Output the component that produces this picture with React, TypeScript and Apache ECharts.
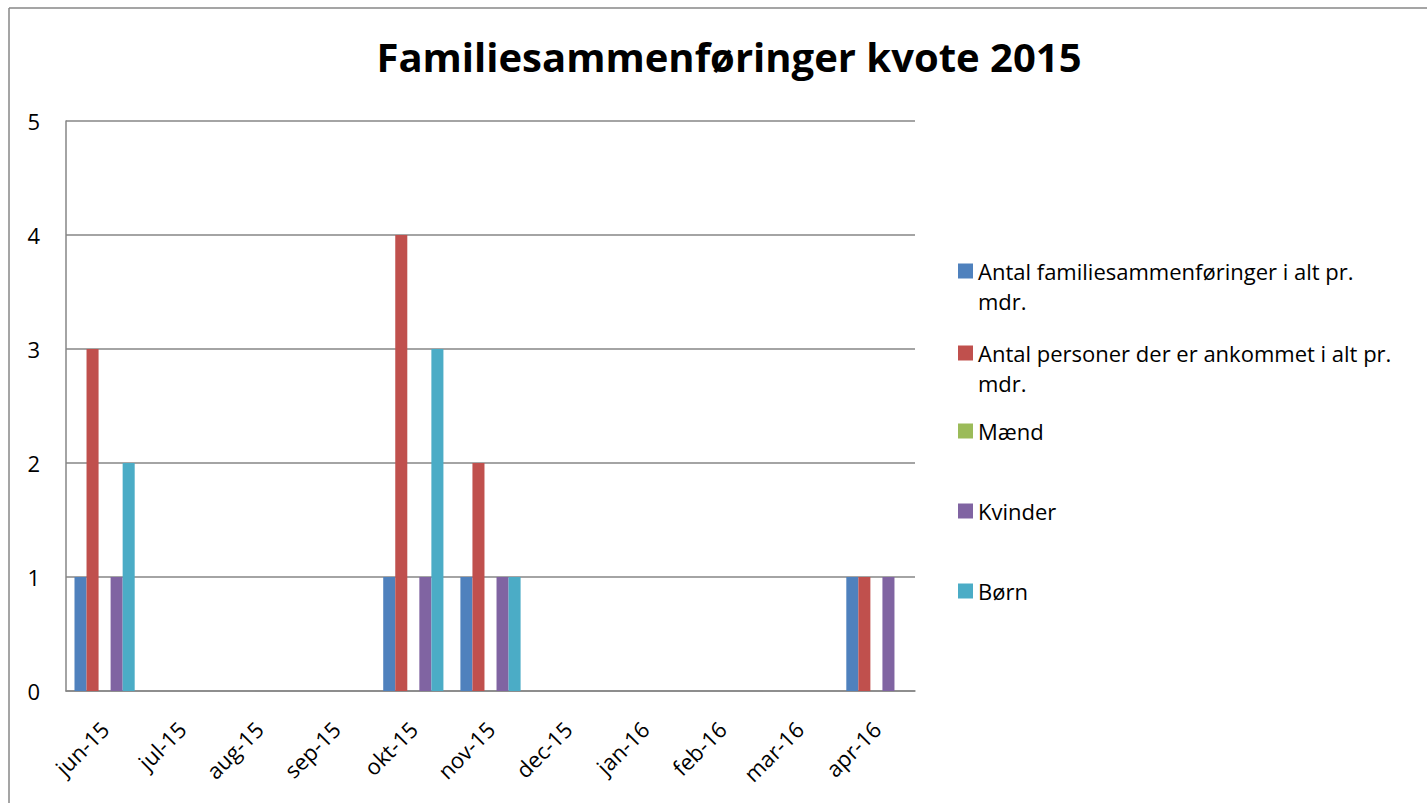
import React, { useEffect, useRef } from "react";
import * as echarts from "echarts";

const categories = ["jun-15", "jul-15", "aug-15", "sep-15", "okt-15", "nov-15", "dec-15", "jan-16", "feb-16", "mar-16", "apr-16"];
const seriesNames = [
  "Antal familiesammenføringer i alt pr. mdr.",
  "Antal personer der er ankommet i alt pr. mdr.",
  "Mænd",
  "Kvinder",
  "Børn",
];
const familieValues = [1, 0, 0, 0, 1, 1, 0, 0, 0, 0, 1];
const personerValues = [3, 0, 0, 0, 4, 2, 0, 0, 0, 0, 1];
const maendValues = [0, 0, 0, 0, 0, 0, 0, 0, 0, 0, 0];
const kvinderValues = [1, 0, 0, 0, 1, 1, 0, 0, 0, 0, 1];
const bornValues = [2, 0, 0, 0, 3, 1, 0, 0, 0, 0, 0];
const colors = ["#4F81BD", "#C0504D", "#9BBB59", "#8064A2", "#4BACC6"];
const yTicks = [0, 1, 2, 3, 4, 5];

const FONT = "'Open Sans', sans-serif";

export default function App() {
  const ref = useRef<HTMLDivElement>(null);
  useEffect(() => {
    document.body.style.margin = "0";
    document.body.style.overflow = "hidden";
    const chart = echarts.init(ref.current!, null, { renderer: "svg" });
    const values = [familieValues, personerValues, maendValues, kvinderValues, bornValues];
    const iconCenters = [275, 357, 435, 515, 595];
    const twoLine = [true, true, false, false, false];
    chart.setOption({
      animation: false,
      backgroundColor: "#ffffff",
      title: {
        text: "Familiesammenføringer kvote 2015",
        left: 724,
        textAlign: "center",
        top: 31,
        textStyle: { fontFamily: FONT, fontWeight: "bold", fontSize: 40, color: "#000" },
      },
      legend: seriesNames.map((n, i) => ({
        data: [n],
        left: 958,
        top: iconCenters[i] - (twoLine[i] ? 45 : 15),
        padding: 0,
        itemWidth: 15,
        itemHeight: 15,
        icon: "rect",
        selectedMode: false,
        formatter: (name: string) => {
          if (name.endsWith(" pr. mdr.")) {
            const first = name.slice(0, name.length - 5);
            return "{e| }\n{a|" + first + "}\n{a|mdr.}";
          }
          return "{a|" + name + "}";
        },
        textStyle: {
          fontFamily: FONT,
          fontSize: 22,
          color: "#000",
          rich: {
            a: { fontFamily: FONT, fontSize: 22, color: "#000", lineHeight: 30 },
            e: { fontFamily: FONT, fontSize: 22, lineHeight: 30 },
          },
        },
      })),
      grid: { left: 66, top: 121, width: 849, height: 570, containLabel: false },
      xAxis: {
        type: "category",
        data: categories,
        axisLine: { show: true, lineStyle: { color: "#868686", width: 1.5 } },
        axisTick: { show: false },
        axisLabel: { rotate: 45, margin: 34, fontFamily: FONT, fontSize: 22, color: "#000", interval: 0 },
      },
      yAxis: {
        type: "value",
        min: 0,
        max: 5,
        interval: 1,
        axisLine: { show: true, lineStyle: { color: "#868686", width: 1.5 } },
        axisTick: { show: false },
        splitLine: { show: true, lineStyle: { color: "#868686", width: 1.5 } },
        axisLabel: {
          margin: 26,
          fontFamily: FONT,
          fontSize: 22,
          color: "#000",
          formatter: (v: number) => (yTicks.includes(v) ? String(v) : ""),
        },
      },
      series: seriesNames.map((n, i) => ({
        name: n,
        type: "bar",
        data: values[i],
        barGap: "0%",
        barCategoryGap: "22%",
        itemStyle: { color: colors[i] },
      })),
      graphic: [
        { type: "line", shape: { x1: 9, y1: 8, x2: 9, y2: 803 }, style: { stroke: "#878787", lineWidth: 1.5 } },
        { type: "line", shape: { x1: 9, y1: 8, x2: 1427, y2: 8 }, style: { stroke: "#878787", lineWidth: 1.5 } },
      ],
    });
    return () => chart.dispose();
  }, []);
  return <div ref={ref} style={{ position: "absolute", left: 0, top: 0, width: 1427, height: 803 }} />;
}
